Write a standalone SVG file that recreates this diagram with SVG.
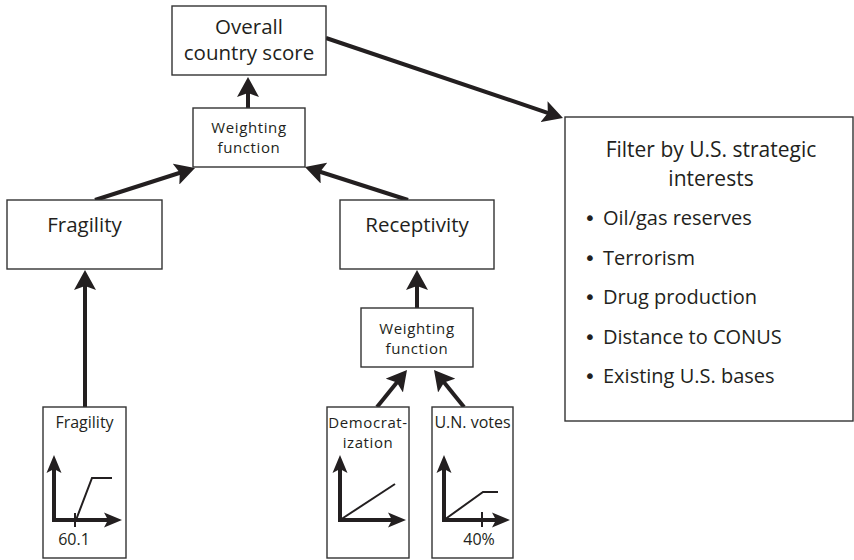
<svg xmlns="http://www.w3.org/2000/svg" width="854" height="560" viewBox="0 0 854 560">
<style>
.box{fill:#fff;stroke:#333;stroke-width:1.4}
.t{font-family:"Open Sans","Noto Sans","Liberation Sans",sans-serif;fill:#231f20;text-anchor:middle}
.big{font-size:20.5px}
.ttl{font-size:21px}
.sm{font-size:16px}
.sm2{font-size:15px;letter-spacing:0.6px}
.lst{font-size:20px;text-anchor:start}
.bul{font-family:"DejaVu Sans",sans-serif;font-size:20px;fill:#231f20;text-anchor:middle}
.arr{fill:none;stroke:#231f20;stroke-width:4;marker-end:url(#ah)}
.ax{fill:none;stroke:#231f20;stroke-width:4;stroke-linejoin:miter;marker-start:url(#sa);marker-end:url(#sa)}
.crv{fill:none;stroke:#231f20;stroke-width:2}
</style>
<defs>
<marker id="ah" viewBox="-10 -11 20 22" markerWidth="20" markerHeight="22" refX="0" refY="0" orient="auto" markerUnits="userSpaceOnUse">
<path d="M10,0 L-10,-11 L-6,0 L-10,11 Z" fill="#231f20"/>
</marker>
<marker id="sa" viewBox="-10 -8 18 16" markerWidth="18" markerHeight="16" refX="0" refY="0" orient="auto-start-reverse" markerUnits="userSpaceOnUse">
<path d="M8,0 L-10,-7.5 L-6,0 L-10,7.5 Z" fill="#231f20"/>
</marker>
</defs>
<rect width="854" height="560" fill="#fff"/>
<g id="connectors">
<path class="arr" d="M248,108 L248,87"/>
<path class="arr" d="M95,200 L185.5,171"/>
<path class="arr" d="M408,200 L314.5,170"/>
<path class="arr" d="M326,38 L553.5,114.8"/>
<path class="arr" d="M85,407 L85,280"/>
<path class="arr" d="M417,308 L417,280"/>
<path class="arr" d="M377,407 L400.7,377.8"/>
<path class="arr" d="M464,407 L440.3,377.8"/>
</g>
<g id="overall">
<rect class="box" x="172" y="6" width="154" height="69"/>
<text class="t big" x="249" y="34">Overall</text>
<text class="t big" x="249" y="60">country score</text>
</g>
<g id="weighting1">
<rect class="box" x="193" y="108" width="112" height="59"/>
<text class="t sm2" x="249" y="132.5">Weighting</text>
<text class="t sm2" x="249" y="153">function</text>
</g>
<g id="fragility">
<rect class="box" x="7" y="200" width="155" height="69"/>
<text class="t big" x="84.5" y="232">Fragility</text>
</g>
<g id="receptivity">
<rect class="box" x="340" y="200" width="154" height="69"/>
<text class="t big" x="417" y="232">Receptivity</text>
</g>
<g id="weighting2">
<rect class="box" x="361" y="308" width="112" height="59"/>
<text class="t sm2" x="417" y="333.5">Weighting</text>
<text class="t sm2" x="417" y="354">function</text>
</g>
<g id="filter">
<rect class="box" x="565" y="117" width="288" height="304"/>
<text class="t ttl" x="711" y="157">Filter by U.S. strategic</text>
<text class="t ttl" x="711" y="186">interests</text>
<text class="bul" x="590" y="225">•</text><text class="t lst" x="603" y="225">Oil/gas reserves</text>
<text class="bul" x="590" y="264.5">•</text><text class="t lst" x="603" y="264.5">Terrorism</text>
<text class="bul" x="590" y="304">•</text><text class="t lst" x="603" y="304">Drug production</text>
<text class="bul" x="590" y="343.5">•</text><text class="t lst" x="603" y="343.5">Distance to CONUS</text>
<text class="bul" x="590" y="383">•</text><text class="t lst" x="603" y="383">Existing U.S. bases</text>
</g>
<g id="fragility-input">
<rect class="box" x="43" y="407" width="83" height="151"/>
<text class="t sm" x="84.5" y="428">Fragility</text>
<path class="ax" d="M54,463 L54,520 L114,520"/>
<path class="crv" d="M76,520 L92,478 L112,478"/>
<path class="crv" d="M75,513 L75,527"/>
<text class="t sm" x="74" y="545">60.1</text>
</g>
<g id="democratization-input">
<rect class="box" x="327" y="407" width="82" height="151"/>
<text class="t sm2" x="368" y="427.5">Democrat-</text>
<text class="t sm2" x="368" y="448">ization</text>
<path class="ax" d="M340,463 L340,520 L398,520"/>
<path class="crv" d="M340,520 L395,484"/>
</g>
<g id="unvotes-input">
<rect class="box" x="432" y="407" width="81" height="151"/>
<text class="t sm" x="472.5" y="428">U.N. votes</text>
<path class="ax" d="M444,463 L444,520 L502,520"/>
<path class="crv" d="M444,520 L483,492 L498,492"/>
<path class="crv" d="M482,512 L482,527"/>
<text class="t sm" x="479" y="545">40%</text>
</g>
</svg>
